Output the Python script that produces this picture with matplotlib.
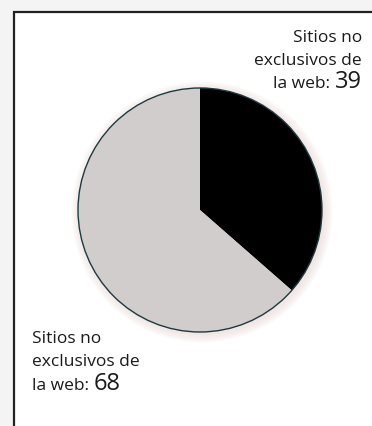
"""
Pie chart: sitios no exclusivos de la web.
"""

import matplotlib.pyplot as plt
from matplotlib.patches import Circle

plt.rcParams['font.family'] = ['Open Sans', 'DejaVu Sans']

# slice values, clockwise from 12 o'clock
values = [39, 68]
colors = ['#000000', '#d1cdcc']
label_lines = ['Sitios no', 'exclusivos de', 'la web: ']

W, H = 372, 426
fig = plt.figure(figsize=(W / 100, H / 100), dpi=100)
fig.patch.set_facecolor('#f4f4f4')
ax = fig.add_axes([0, 0, 1, 1])

cx, cy, r = 200, 216, 122

# faint halo behind the pie
for i in range(6):
    ax.add_patch(Circle((cx + 2, cy - 2), r + 1 + i * 1.5, facecolor='#e8d8d4',
                        edgecolor='none', alpha=0.12, zorder=1))

ax.pie(values, colors=colors, startangle=90, counterclock=False,
       center=(cx, cy), radius=r, frame=True,
       wedgeprops=dict(edgecolor='none', zorder=2))
ax.add_patch(Circle((cx, cy), r, facecolor='none', edgecolor='#1d3a40',
                    lw=1.0, zorder=3))

ax.set_xlim(0, W)
ax.set_ylim(0, H)
ax.set_aspect('equal')
ax.axis('off')

# white panel with a rule on top and left
ax.add_patch(plt.Rectangle((14, 0), W, H - 12, facecolor='white',
                           edgecolor='none', zorder=0))
ax.plot([14, 14, W], [0, H - 12, H - 12], color='#222222', lw=1.6,
        solid_joinstyle='miter', zorder=1)

fs, fs_num = 12.5, 17
txt = dict(color='#1a1a1a', va='baseline')
inv = ax.transData.inverted()

# upper right label (first slice), right aligned
top_base = [H - 42, H - 65, H - 88]
for line, y in zip(label_lines[:2], top_base[:2]):
    ax.text(362, y, line, fontsize=fs, ha='right', **txt)
n1 = ax.text(362, top_base[2], str(values[0]), fontsize=fs_num, ha='right', **txt)
fig.canvas.draw()
x_left = inv.transform(n1.get_window_extent().p0)[0]
ax.text(x_left, top_base[2], label_lines[2], fontsize=fs, ha='right', **txt)

# lower left label (second slice), left aligned
bot_base = [H - 343, H - 366, H - 390]
for line, y in zip(label_lines, bot_base):
    t = ax.text(32, y, line, fontsize=fs, ha='left', **txt)
fig.canvas.draw()
x_right = inv.transform(t.get_window_extent().p1)[0]
ax.text(x_right, bot_base[2], str(values[1]), fontsize=fs_num, ha='left', **txt)

fig.savefig('out.png', dpi=100)
